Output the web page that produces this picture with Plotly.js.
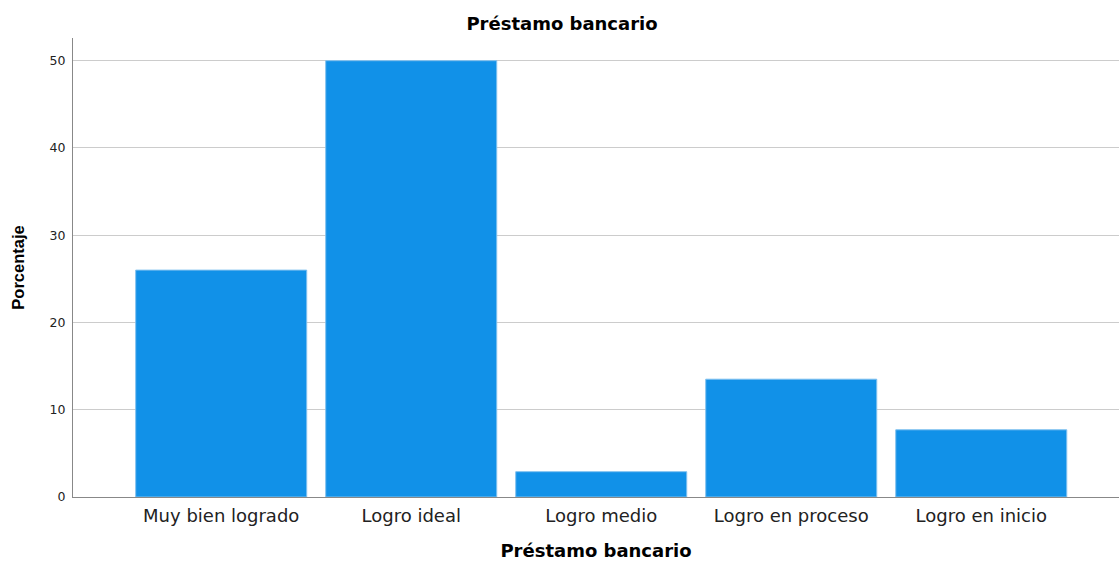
<!DOCTYPE html>
<html>
<head>
<meta charset="utf-8">
<script src="https://cdn.plot.ly/plotly-3.0.1.min.js"></script>
<style>html,body{margin:0;padding:0;background:#fff;}#chart{width:1119px;height:561px;}</style>
</head>
<body>
<div id="chart"></div>
<script>
const categories = ["Muy bien logrado", "Logro ideal", "Logro medio", "Logro en proceso", "Logro en inicio"];
const porcentaje = [26.0, 50.0, 2.9, 13.5, 7.7];
const yTicks = [0, 10, 20, 30, 40, 50];

const trace = {
  type: 'bar',
  x: categories,
  y: porcentaje,
  width: 0.9,
  marker: {color: '#1191e8', line: {color: '#7fc0ef', width: 1}},
  hoverinfo: 'x+y'
};

const layout = {
  width: 1119,
  height: 561,
  margin: {l: 73, r: 0, t: 38, b: 64},
  paper_bgcolor: '#ffffff',
  plot_bgcolor: '#ffffff',
  showlegend: false,
  title: {
    text: '<b>Préstamo bancario</b>',
    font: {family: 'DejaVu Sans', size: 18, color: '#000000'},
    x: 562 / 1119, xref: 'container', xanchor: 'center',
    y: 1 - 24 / 561, yref: 'container', yanchor: 'middle'
  },
  xaxis: {
    type: 'category',
    range: [-0.78, 4.725],
    showgrid: false,
    showline: true,
    linecolor: '#888888',
    linewidth: 1,
    ticks: '',
    tickfont: {family: 'DejaVu Sans', size: 18, color: '#222222'},
    ticklabelstandoff: 2,
    title: {
      text: '<b>Préstamo bancario</b>',
      font: {family: 'DejaVu Sans', size: 18, color: '#000000'},
      standoff: 24
    },
    fixedrange: true
  },
  yaxis: {
    range: [0, 52.6],
    tickvals: yTicks,
    ticktext: yTicks.map(String),
    showgrid: true,
    gridcolor: '#cccccc',
    gridwidth: 1,
    zeroline: false,
    showline: true,
    linecolor: '#888888',
    linewidth: 1,
    ticks: '',
    tickfont: {family: 'DejaVu Sans', size: 12.5, color: '#222222'},
    ticklabelstandoff: 4,
    title: {
      text: '<b>Porcentaje</b>',
      font: {family: 'Liberation Sans Narrow, Liberation Sans', size: 16.5, color: '#000000'},
      standoff: 20
    },
    fixedrange: true
  }
};

Plotly.newPlot('chart', [trace], layout, {displayModeBar: false, staticPlot: true});
</script>
</body>
</html>
